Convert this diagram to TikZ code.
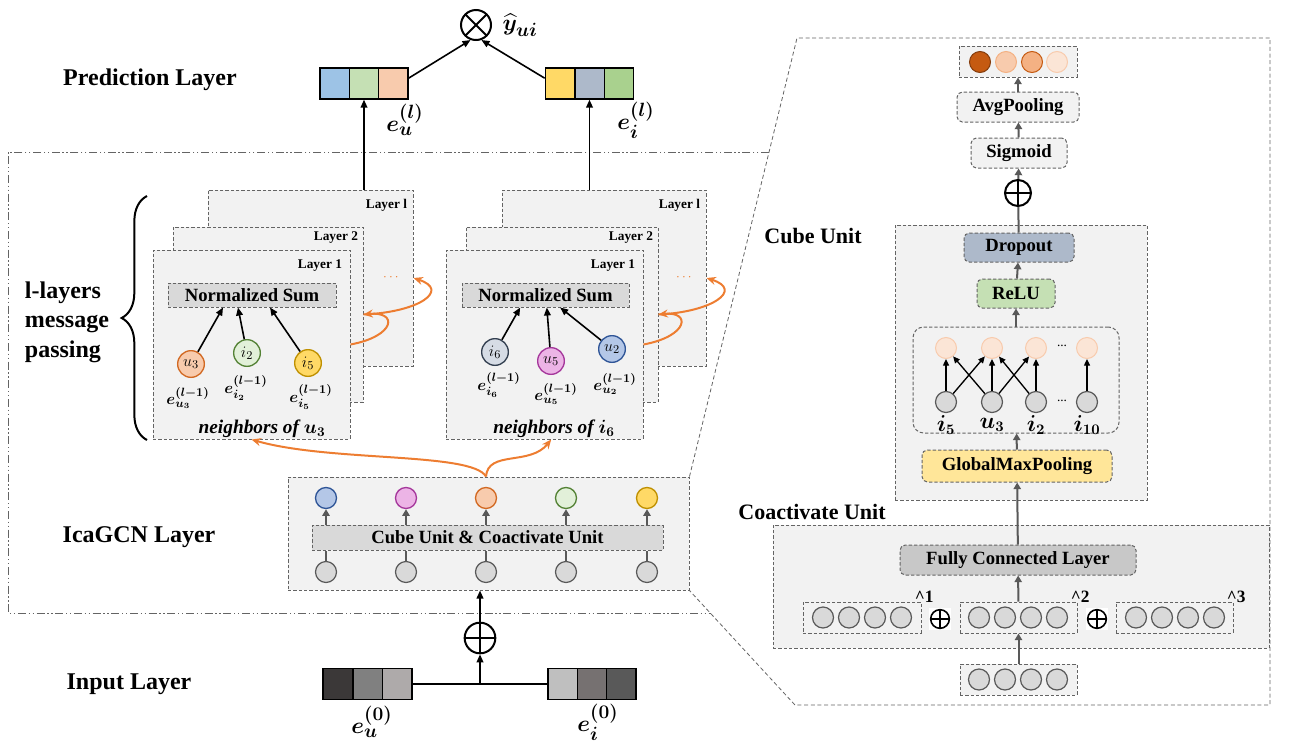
\documentclass[tikz,border=0pt]{standalone}
\usepackage{amsmath}
\usepackage{bm}
\usepackage{fontspec}
\setmainfont{Liberation Serif}
\usetikzlibrary{arrows.meta,fit,decorations.pathreplacing}

% greys and lines
\definecolor{panelgray}{RGB}{242,242,242}
\definecolor{sumgray}{RGB}{217,217,217}
\definecolor{fcgray}{RGB}{200,200,200}
\definecolor{dashgray}{RGB}{100,100,100}
\definecolor{arrgray}{RGB}{89,89,89}
\definecolor{flowor}{RGB}{237,125,49}
% embedding cells
\definecolor{vblue}{RGB}{157,195,230}
\definecolor{vlgreen}{RGB}{197,224,180}
\definecolor{vpeach}{RGB}{248,203,173}
\definecolor{vgold}{RGB}{255,217,102}
\definecolor{vslate}{RGB}{173,185,202}
\definecolor{vgreen}{RGB}{169,209,142}
\definecolor{in1}{RGB}{59,56,56}
\definecolor{in2}{RGB}{128,128,128}
\definecolor{in3}{RGB}{174,170,170}
\definecolor{in4}{RGB}{191,191,191}
\definecolor{in5}{RGB}{118,113,113}
\definecolor{in6}{RGB}{89,89,89}
% node circles
\definecolor{ordark}{RGB}{210,105,35}
\definecolor{nmint}{RGB}{226,240,217}
\definecolor{grdark}{RGB}{84,130,53}
\definecolor{golddark}{RGB}{191,144,0}
\definecolor{nslate}{RGB}{214,220,229}
\definecolor{slatedk}{RGB}{51,63,80}
\definecolor{npink}{RGB}{236,180,230}
\definecolor{pinkdk}{RGB}{165,55,155}
\definecolor{nblue}{RGB}{180,199,231}
\definecolor{bluedk}{RGB}{47,85,151}
\definecolor{obrown}{RGB}{197,90,17}
\definecolor{obrowndk}{RGB}{132,60,12}
\definecolor{omid}{RGB}{244,177,131}
\definecolor{opale}{RGB}{251,229,214}
\definecolor{dropc}{RGB}{173,185,202}
\definecolor{reluc}{RGB}{197,224,180}
\definecolor{gmpc}{RGB}{255,230,153}

\tikzset{every picture/.style={line width=0.75pt}}
\tikzset{
  panel/.style={draw=dashgray, fill=panelgray, dash pattern=on 2.5pt off 1.5pt, inner sep=0pt},
  rpanel/.style={panel, rounded corners=4pt},
  txt/.style={font=\bfseries\fontsize{14}{16}\selectfont, inner sep=0pt},
  ttl/.style={font=\bfseries\fontsize{18}{22}\selectfont},
  sttl/.style={font=\bfseries\fontsize{16.5}{20}\selectfont},
  laybl/.style={font=\bfseries\fontsize{10}{12}\selectfont, inner sep=0pt},
  elbl/.style={font=\fontsize{13}{15}\selectfont, inner sep=0pt},
  ebig/.style={font=\fontsize{19}{22}\selectfont, inner sep=0pt},
  nbr/.style={font=\bfseries\itshape\fontsize{14.5}{16}\selectfont, inner sep=0pt},
  vcell/.style={draw=black, line width=1pt, minimum width=22pt, minimum height=23.25pt, inner sep=0pt},
  emb/.style 2 args={circle, draw=#2, fill=#1, line width=1pt, minimum size=20pt, inner sep=0pt, font=\fontsize{13}{13}\selectfont},
  graynode/.style={circle, draw=arrgray, fill=sumgray, line width=0.9pt, minimum size=15.75pt, inner sep=0pt},
  opl/.style={circle, draw, line width=1.5pt, inner sep=0pt,
    path picture={\draw[line width=1.5pt] (path picture bounding box.north) -- (path picture bounding box.south)
      (path picture bounding box.west) -- (path picture bounding box.east);}},
  otl/.style={circle, draw, line width=1.5pt, inner sep=0pt,
    path picture={\draw[line width=1.5pt] (path picture bounding box.north west) -- (path picture bounding box.south east)
      (path picture bounding box.south west) -- (path picture bounding box.north east);}},
  blk/.style={line width=1.2pt, -{Triangle[length=6pt,width=5pt]}},
  thin arr/.style={line width=1pt, -{Triangle[length=5pt,width=4.5pt]}},
  gry/.style={draw=arrgray, line width=1.5pt, -{Triangle[length=5pt,width=5.5pt]}},
  gline/.style={draw=arrgray, line width=1.5pt},
  flow/.style={draw=flowor, line width=1.5pt, -{Stealth[length=7pt,width=6pt]}},
  mpframe/.style={draw=dashgray, dash pattern=on 6pt off 2pt on 1pt off 2pt on 1pt off 2pt},
  zoomline/.style={draw=dashgray, line width=0.6pt, dash pattern=on 3pt off 2pt},
}

\begin{document}
\begin{tikzpicture}[x=0.75pt,y=0.75pt,yscale=-1,xscale=1]
\useasboundingbox (0,0) rectangle (1297,743);

% section titles
\node[ttl] (tPred) at (150,80) {Prediction Layer};
\node[ttl, align=left, anchor=west] (tMsg) at (20,322) {l-layers\\message\\passing};
\node[ttl] (tIca) at (139,537) {IcaGCN Layer};
\node[ttl] (tIn) at (129,684) {Input Layer};
\node[sttl] (tCube) at (813,236) {Cube Unit};
\node[sttl] (tCoa) at (812,512) {Coactivate Unit};

% message passing frame
\draw[mpframe] (769,152) -- (8,152) -- (8,613) -- (711,613);
\draw[line width=1.5pt, decorate, decoration={brace, amplitude=19pt, aspect=0.5}] (147,440) -- (147,196);

%% user side: stacked layers
\node[panel, fit={(208,190)(413,366)}] (uL3) {};
\node[laybl, anchor=north east] (uL3t) at ([xshift=-4.5pt,yshift=6.75pt]uL3.north east) {Layer l};
\node[panel, fit={(173,227)(363,402)}] (uL2) {};
\node[laybl, anchor=north east] (uL2t) at ([xshift=-3.75pt,yshift=3.75pt]uL2.north east) {Layer 2};
\node[panel, fit={(153,250)(350,439)}] (uL1) {};
\node[laybl, anchor=north east] (uL1t) at ([xshift=-6pt,yshift=7.5pt]uL1.north east) {Layer 1};
\node[text=flowor, font=\bfseries] (udots) at (392,278) {$\cdots$};

\node[panel, fill=sumgray, fit={(168,283)(336,307)}] (uNS) {};
\node[txt] (uNSt) at (uNS) {Normalized Sum};
\node[emb={vpeach}{ordark}] (uu3) at (191,364) {$u_3$};
\node[emb={nmint}{grdark}] (ui2) at (247,353) {$i_2$};
\node[emb={vgold}{golddark}] (ui5) at (308,363) {$i_5$};
\node[elbl] (uu3e) at (188,398) {$\bm{e_{u_3}^{(l-1)}}$};
\node[elbl] (ui2e) at (246,388) {$\bm{e_{i_2}^{(l-1)}}$};
\node[elbl] (ui5e) at (311,397) {$\bm{e_{i_5}^{(l-1)}}$};
\node[nbr] (uNb) at (262,429) {neighbors of $\bm{u_3}$};
\draw[blk] (uu3) -- ([xshift=-21.75pt]uNS.south);
\draw[blk] (ui2) -- ([xshift=-10.5pt]uNS.south);
\draw[blk] (ui5) -- ([xshift=13.5pt]uNS.south);

%% item side: stacked layers
\node[panel, fit={(502,190)(706,366)}] (iL3) {};
\node[laybl, anchor=north east] (iL3t) at ([xshift=-4.5pt,yshift=6.75pt]iL3.north east) {Layer l};
\node[panel, fit={(466,227)(658,402)}] (iL2) {};
\node[laybl, anchor=north east] (iL2t) at ([xshift=-3.75pt,yshift=3.75pt]iL2.north east) {Layer 2};
\node[panel, fit={(446,250)(643,439)}] (iL1) {};
\node[laybl, anchor=north east] (iL1t) at ([xshift=-6pt,yshift=7.5pt]iL1.north east) {Layer 1};
\node[text=flowor, font=\bfseries] (idots) at (685,278) {$\cdots$};

\node[panel, fill=sumgray, fit={(462,283)(629,307)}] (iNS) {};
\node[txt] (iNSt) at (iNS) {Normalized Sum};
\node[emb={nslate}{slatedk}] (ii6) at (495,352) {$i_6$};
\node[emb={npink}{pinkdk}] (iu5) at (551,361) {$u_5$};
\node[emb={nblue}{bluedk}] (iu2) at (612,349) {$u_2$};
\node[elbl] (ii6e) at (499,385) {$\bm{e_{i_6}^{(l-1)}}$};
\node[elbl] (iu5e) at (556,394) {$\bm{e_{u_5}^{(l-1)}}$};
\node[elbl] (iu2e) at (615,384) {$\bm{e_{u_2}^{(l-1)}}$};
\node[nbr] (iNb) at (554,429) {neighbors of $\bm{i_6}$};
\draw[blk] (ii6) -- ([xshift=-19pt]iNS.south);
\draw[blk] (iu5) -- ([xshift=1pt]iNS.south);
\draw[blk] (iu2) -- ([xshift=11pt]iNS.south);

% layer to layer propagation
\draw[flow] (uL1.east) .. controls (396,336) and (398,311) .. (uL2.east);
\draw[flow] (uL2.east) .. controls (420,312) and (450,290) .. (uL3.east |- udots);
\draw[flow] (iL1.east) .. controls (689,336) and (691,311) .. (iL2.east);
\draw[flow] (iL2.east) .. controls (712,312) and (744,290) .. (iL3.east |- idots);

%% prediction layer
\node[vcell, fill=vblue] (eu1) at (334.7,83.5) {};
\node[vcell, fill=vlgreen] (eu2) at (364,83.5) {};
\node[vcell, fill=vpeach] (eu3) at (393.3,83.5) {};
\node[vcell, fill=vgold] (ei1) at (560,83.5) {};
\node[vcell, fill=vslate] (ei2) at (589.5,83.5) {};
\node[vcell, fill=vgreen] (ei3) at (619,83.5) {};
\node[otl, minimum size=22.5pt] (ot) at (476,25) {};
\node[ebig, anchor=west] (yhat) at (502,25) {$\widehat{\bm{y}}_{\bm{ui}}$};
\node[ebig] (euL) at (405,120) {$\bm{e_u^{(l)}}$};
\node[ebig] (eiL) at (636,120) {$\bm{e_i^{(l)}}$};
\draw[blk] ([yshift=-4pt]eu3.east) -- (ot.-110);
\draw[blk] ([yshift=-4pt]ei1.west) -- (ot.-70);
\draw[blk] (uL3.north -| eu2) -- (eu2.south);
\draw[blk] (iL3.north -| ei2) -- (ei2.south);

%% IcaGCN layer
\node[panel, fit={(288,477)(689,590)}] (ica) {};
\node[panel, fill=sumgray, fit={(312,525)(663,550)}] (cu) {};
\node[txt] (cut) at (cu) {Cube Unit \& Coactivate Unit};
\foreach \i/\x/\f/\d in {1/326/nblue/bluedk, 2/406/npink/pinkdk, 3/486/vpeach/ordark, 4/566/nmint/grdark, 5/647/vgold/golddark}{
  \node[emb={\f}{\d}, minimum size=15.75pt] (it\i) at (\x,498) {};
  \node[graynode] (ib\i) at (\x,572) {};
  \draw[gry] (cu.north -| it\i) -- (it\i);
  \draw[gline] (ib\i) -- (cu.south -| ib\i);
}
\draw[flow] (ica.north -| it3) .. controls (472,452) and (330,462) .. (uL1.south);
\draw[flow] (ica.north -| it3) .. controls (488,450) and (530,466) .. ([xshift=5pt]iL1.south);

%% input layer
\node[vcell, fill=in1] (eu01) at (337.8,684) {};
\node[vcell, fill=in2] (eu02) at (367.5,684) {};
\node[vcell, fill=in3] (eu03) at (397.2,684) {};
\node[vcell, fill=in4] (ei01) at (562.7,684) {};
\node[vcell, fill=in5] (ei02) at (592,684) {};
\node[vcell, fill=in6] (ei03) at (621.3,684) {};
\node[ebig] (eu0) at (372,722) {$\bm{e_u^{(0)}}$};
\node[ebig] (ei0) at (598,722) {$\bm{e_i^{(0)}}$};
\coordinate (jn) at (480,684);
\node[opl, minimum size=23pt] (opIn) at (480,638) {};
\draw[line width=1.5pt] (eu03.east) -- (ei01.west);
\draw[blk] (jn) -- (opIn);
\draw[blk] (opIn) -- (opIn |- ica.south);

%% zoomed panel
\draw[zoomline] (ica.north east) -- (797,38) -- (1270,38) -- (1270,705) -- (795,705) -- (ica.south east);

% output head
\node[panel, fit={(959,46)(1077,77)}] (outv) {};
\node[circle, draw=obrowndk, fill=obrown, minimum size=15.75pt, inner sep=0pt] (o1) at (980,62) {};
\node[circle, draw=omid, fill=vpeach, minimum size=15.75pt, inner sep=0pt] (o2) at (1006,62) {};
\node[circle, draw=obrown, fill=omid, minimum size=15.75pt, inner sep=0pt] (o3) at (1032,62) {};
\node[circle, draw=vpeach, fill=opale, minimum size=15.75pt, inner sep=0pt] (o4) at (1057,62) {};
\node[rpanel, fit={(957,92)(1079,122)}] (avg) {};
\node[txt] (avgt) at (avg) {AvgPooling};
\node[rpanel, fit={(971,138)(1067,168)}] (sig) {};
\node[txt] (sigt) at (sig) {Sigmoid};
\node[opl, minimum size=19.5pt] (opOut) at (1018,193) {};
\draw[gry] (avg) -- (outv);
\draw[gry] (sig) -- (avg);
\draw[gry] (opOut) -- (sig);

% cube unit
\node[panel, fit={(895,225)(1147,500)}] (cube) {};
\node[rpanel, fill=dropc, fit={(964,233)(1074,262)}] (drop) {};
\node[txt] (dropt) at (drop) {Dropout};
\node[rpanel, fill=reluc, fit={(977,279)(1055,308)}] (relu) {};
\node[txt] (relut) at (relu) {ReLU};
\node[panel, rounded corners=8pt, fit={(913,327)(1119,433)}] (cross) {};
\node[rpanel, fill=gmpc, fit={(922,450)(1112,482)}] (gmp) {};
\node[txt] (gmpt) at (gmp) {GlobalMaxPooling};
\foreach \i/\x/\l in {1/946/i_5, 2/992/u_3, 3/1036/i_2, 4/1087/i_{10}}{
  \node[circle, draw=vpeach, fill=opale, minimum size=15.75pt, inner sep=0pt] (ct\i) at (\x,348) {};
  \node[graynode] (cb\i) at (\x,402) {};
  \node[font=\fontsize{16}{18}\selectfont] (cl\i) at (\x,425) {$\bm{\l}$};
  \draw[thin arr] (cb\i) -- (ct\i);
}
\node[font=\fontsize{10}{10}\selectfont] (cdt) at (1062,346) {...};
\node[font=\fontsize{10}{10}\selectfont] (cdb) at (1062,401) {...};
\draw[thin arr] (cb1) -- (ct2);
\draw[thin arr] (cb2) -- (ct1);
\draw[thin arr] (cb2) -- (ct3);
\draw[thin arr] (cb3) -- (ct2);
\draw[gline] (drop) -- (opOut);
\draw[gry] (relu) -- (drop);
\draw[gry] (cross) -- (relu);
\draw[gry] (gmp) -- (cross);

% coactivate unit
\node[panel, fit={(773,525)(1269,648)}] (coa) {};
\node[rpanel, fill=fcgray, fit={(900,545)(1136,575)}] (fc) {};
\node[txt] (fct) at (fc) {Fully Connected Layer};
\node[panel, fit={(803,602)(921,633)}] (vb1) {};
\node[panel, fit={(960,602)(1077,633)}] (vb2) {};
\node[panel, fit={(1116,602)(1233,633)}] (vb3) {};
\node[panel, fit={(960,664)(1077,695)}] (vin) {};
\foreach \b/\x in {vb1/823, vb2/979, vb3/1136, vin/979}{
  \foreach \k in {0,1,2,3}{
    \node[graynode] (\b c\k) at ({\x+26*\k}, 0 |- \b) {};
  }
}
\node[font=\bfseries\fontsize{13}{13}\selectfont, inner sep=0pt] (p1) at ([xshift=2pt,yshift=-3.5pt]vb1.north east) {\textasciicircum 1};
\node[font=\bfseries\fontsize{13}{13}\selectfont, inner sep=0pt] (p2) at ([xshift=2pt,yshift=-3.5pt]vb2.north east) {\textasciicircum 2};
\node[font=\bfseries\fontsize{13}{13}\selectfont, inner sep=0pt] (p3) at ([xshift=2pt,yshift=-3.5pt]vb3.north east) {\textasciicircum 3};
\node[fill=white, minimum size=17pt, inner sep=0pt] (opAbg) at (940,619) {};
\node[opl, line width=1.2pt, minimum size=14pt] (opA) at (opAbg) {};
\node[fill=white, minimum size=17pt, inner sep=0pt] (opBbg) at (1097,619) {};
\node[opl, line width=1.2pt, minimum size=14pt] (opB) at (opBbg) {};
\draw[gry] (vin) -- (vb2);
\draw[gry] (vb2) -- (fc);
\draw[gry] (fc) -- (gmp);

\end{tikzpicture}
\end{document}
